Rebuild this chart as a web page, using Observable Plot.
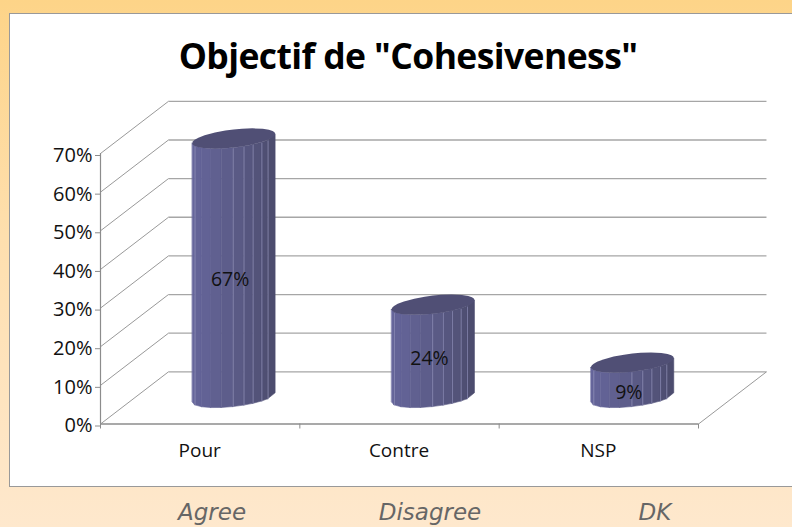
<!DOCTYPE html>
<html><head><meta charset="utf-8">
<script src="https://cdn.jsdelivr.net/npm/d3@7"></script>
<script src="https://cdn.jsdelivr.net/npm/@observablehq/plot@0.6"></script>
<style>
html,body{margin:0;padding:0;width:792px;height:527px;overflow:hidden}
body{position:relative;background:linear-gradient(180deg,#fdd488 0%,#fedfae 45%,#fee8cd 100%)}
#panel{position:absolute;left:9px;top:13px;width:800px;height:472px;background:#fff;border:1.5px solid #999;box-sizing:content-box}
#title{position:absolute;left:178px;top:31px;width:460px;text-align:center;white-space:nowrap;font:700 35.5px "Open Sans",sans-serif;letter-spacing:-.6px;color:#000}
#chart{position:absolute;left:0;top:0}
.en{position:absolute;top:499px;transform:translateX(-50%);font:italic 400 23px "DejaVu Sans",sans-serif;color:#666;white-space:nowrap}
</style></head><body>
<div id="panel"></div>
<div id="chart"></div>
<div id="title">Objectif de "Cohesiveness"</div>
<span class="en" style="left:212px">Agree</span>
<span class="en" style="left:430px">Disagree</span>
<span class="en" style="left:655px">DK</span>
<script>
const categories = ["Pour", "Contre", "NSP"];
const values = [67, 24, 9];
const percentTicks = [0, 10, 20, 30, 40, 50, 60, 70];
const categoryEdges = [0, 1, 2, 3];
const facetEdges = [-1, -0.94, -0.77, -0.55, -0.3, -0.02, 0.24, 0.46, 0.67, 0.82, 1];
const facetShades = ["#67679c","#636397","#626295","#606090","#5d5d8b","#5a5a85","#56567f","#535379","#4f4f73","#4c4c6e"];
const litEdges = [-0.94, -0.02, 0.24, 0.46, 0.67, 0.82];
const capEdges = [-1, -0.985, -0.94, -0.85, -0.7, -0.45, -0.2, 0, 0.2, 0.45, 0.7, 0.85, 0.94, 0.985, 1];

// oblique 3D depth, in scale units
const depthX = 0.341, depthY = 13.5;
const radiusX = 0.208, tilt = 1.2, radiusY = 2.35;
const cx = i => i + 0.5 + depthX / 2;
const base = depthY / 2;
const arc = u => radiusY * Math.sqrt(Math.max(0, 1 - u * u));

const strips = [];
values.forEach((v, i) => facetShades.forEach((c, k) => {
  [facetEdges[k], facetEdges[k + 1]].forEach(u => {
    const yb = tilt * u - arc(u);
    strips.push({z: `${i}-${k}`, x: cx(i) + radiusX * u, y1: base + yb, y2: base + v + yb, c});
  });
}));
const caps = [];
values.forEach((v, i) => capEdges.forEach(u => {
  caps.push({z: i, x: cx(i) + radiusX * u, y1: base + v + tilt * u - arc(u), y2: base + v + tilt * u + arc(u)});
}));
const lines = [];
values.forEach((v, i) => litEdges.forEach(u => {
  const yb = tilt * u - arc(u);
  lines.push({x: cx(i) + radiusX * u, y1: base + yb, y2: base + v + yb});
}));
const labelNudge = [-0.3, 1, -0.3];
const table = values.map((v, i) => ({x: cx(i), y: v * 0.5 + 4 + labelNudge[i], t: v + "%"}));

const plot = Plot.plot({
  width: 792, height: 527,
  marginLeft: 100, marginRight: 94, marginTop: 153, marginBottom: 103.5,
  style: {background: "transparent", overflow: "visible"},
  x: {domain: [0, 3]},
  y: {domain: [0, 70]},
  color: {type: "identity"},
  marks: [
    Plot.link(percentTicks, {x1: depthX, x2: 3 + depthX, y1: d => d + depthY, y2: d => d + depthY, stroke: "#a6a6a6", strokeWidth: 1.3}),
    Plot.link(percentTicks, {x1: 0, x2: depthX, y1: d => d, y2: d => d + depthY, stroke: "#999", strokeWidth: 1}),
    Plot.link([3], {x1: d => d, x2: d => d + depthX, y1: 0, y2: depthY, stroke: "#999", strokeWidth: 1}),
    Plot.ruleX([0], {y1: 0, y2: 70, stroke: "#8c8c8c", strokeWidth: 1.2}),
    Plot.ruleY([0], {x1: 0, x2: 3, stroke: "#8c8c8c", strokeWidth: 1.4}),
    Plot.axisY({ticks: percentTicks, tickSize: 5, tickPadding: 3, tickFormat: d => d + "%", fontSize: 20, label: null, stroke: "#8c8c8c", color: "#111", textStroke: "none", dy: 2, fontFamily: "Open Sans"}),
    Plot.axisX({ticks: categoryEdges, tickSize: 5, text: null, label: null, stroke: "#8c8c8c"}),
    Plot.axisX({ticks: [0.5, 1.5, 2.5], tickSize: 0, tickPadding: 19, tickFormat: d => categories[d - 0.5], fontSize: 19, label: null, fill: "#111", fontFamily: "Open Sans", dx: -0.5}),
    Plot.areaY(strips, {x: "x", y1: "y1", y2: "y2", z: "z", fill: "c", stroke: "c", strokeWidth: 0.6, curve: "linear"}),
    Plot.link(lines, {x1: "x", x2: "x", y1: "y1", y2: "y2", stroke: "#8d8db6", strokeWidth: 0.7}),
    Plot.areaY(caps, {x: "x", y1: "y1", y2: "y2", z: "z", fill: "#504f75", curve: "linear"}),
    Plot.text(table, {x: "x", y: "y", text: "t", dx: -4, fontSize: 19.5, fill: "#111", fontFamily: "Open Sans"})
  ]
});
document.getElementById("chart").append(plot);
</script>
</body></html>
